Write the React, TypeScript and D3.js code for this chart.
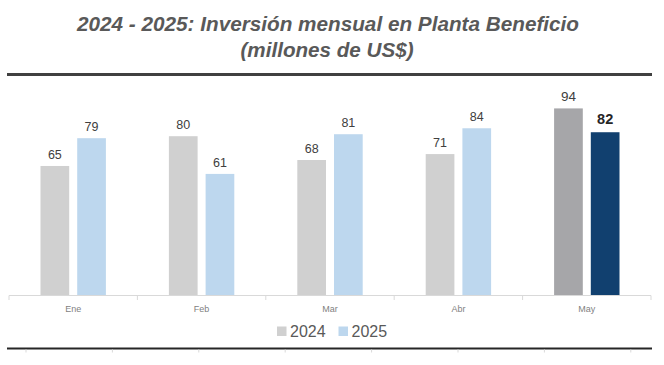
import React from "react";
import * as d3 from "d3";

const months = ["Ene", "Feb", "Mar", "Abr", "May"];
const seriesNames = ["2024", "2025"];
const values2024 = [65, 80, 68, 71, 94];
const values2025 = [79, 61, 81, 84, 82];
const titleLine1 = "2024 - 2025: Inversión mensual en Planta Beneficio";
const titleLine2 = "(millones de US$)";

const W = 664;
const H = 365;

export default function App() {
  const x0 = d3.scaleBand<string>().domain(months).range([9, 651]).padding(0);
  const x1 = d3
    .scaleBand<string>()
    .domain(seriesNames)
    .range([-32.7, 32.7])
    .paddingInner(0.218)
    .paddingOuter(0);
  const y = d3.scaleLinear().domain([0, 100]).range([295, 96.5]);

  const colorFor = (s: string, i: number) => {
    const last = i === months.length - 1;
    if (s === "2024") return last ? "#a6a6a9" : "#d0d0d0";
    return last ? "#11406f" : "#bdd7ee";
  };

  const data = seriesNames.map((s) => ({
    s,
    vals: s === "2024" ? values2024 : values2025,
  }));

  const boundaries = d3.range(months.length + 1).map((i) => 9 + i * x0.step());
  const bottomTicks = d3.range(8).map((i) => 26 + i * 86.4);

  return (
    <svg
      width={W}
      height={H}
      style={{ position: "absolute", left: 0, top: 0, background: "#fff" }}
      fontFamily="'Liberation Sans', Arial, sans-serif"
    >
      <text
        x={328}
        y={30.5}
        textAnchor="middle"
        fontSize={20}
        fontWeight="bold"
        fontStyle="italic"
        fill="#595959"
        textLength={502}
        lengthAdjust="spacingAndGlyphs"
      >
        {titleLine1}
      </text>
      <text
        x={327}
        y={56.5}
        textAnchor="middle"
        fontSize={20}
        fontWeight="bold"
        fontStyle="italic"
        fill="#595959"
        textLength={173}
        lengthAdjust="spacingAndGlyphs"
      >
        {titleLine2}
      </text>
      <line x1={7} x2={652} y1={74.5} y2={74.5} stroke="#404040" strokeWidth={3} />

      {data.map(({ s, vals }) =>
        vals.map((v, i) => {
          const cx = (x0(months[i]) as number) + x0.bandwidth() / 2;
          const bx = cx + (x1(s) as number);
          const last = i === months.length - 1;
          const bold = last && s === "2025";
          return (
            <g key={s + i}>
              <rect
                x={bx}
                y={y(v)}
                width={x1.bandwidth()}
                height={y(0) - y(v)}
                fill={colorFor(s, i)}
              />
              <text
                x={bx + x1.bandwidth() / 2}
                y={y(v) - (bold ? 8.5 : 7)}
                textAnchor="middle"
                fontSize={bold ? 14.5 : last ? 13.5 : 12.5}
                fontWeight={bold ? "bold" : "normal"}
                fill={bold ? "#262626" : "#404040"}
              >
                {v}
              </text>
            </g>
          );
        })
      )}

      <line x1={9} x2={651} y1={295.5} y2={295.5} stroke="#d9d9d9" strokeWidth={1} />
      {boundaries.map((bx, i) => (
        <line key={i} x1={bx} x2={bx} y1={295.5} y2={300} stroke="#d9d9d9" strokeWidth={1} />
      ))}
      {months.map((m) => (
        <text
          key={m}
          x={(x0(m) as number) + x0.bandwidth() / 2}
          y={312}
          textAnchor="middle"
          fontSize={9}
          fill="#7f7f7f"
        >
          {m}
        </text>
      ))}

      {seriesNames.map((s, i) => {
        const lx = i === 0 ? 277 : 338.5;
        return (
          <g key={s}>
            <rect x={lx} y={326.5} width={9.5} height={9.5} fill={i === 0 ? "#d0d0d0" : "#bdd7ee"} />
            <text x={lx + 13} y={337} fontSize={16} fill="#595959">
              {s}
            </text>
          </g>
        );
      })}

      <line x1={7} x2={652} y1={348.5} y2={348.5} stroke="#262626" strokeWidth={2} />
      {bottomTicks.map((tx, i) => (
        <line key={i} x1={tx} x2={tx} y1={349.5} y2={352.5} stroke="#d9d9d9" strokeWidth={1} />
      ))}
    </svg>
  );
}
